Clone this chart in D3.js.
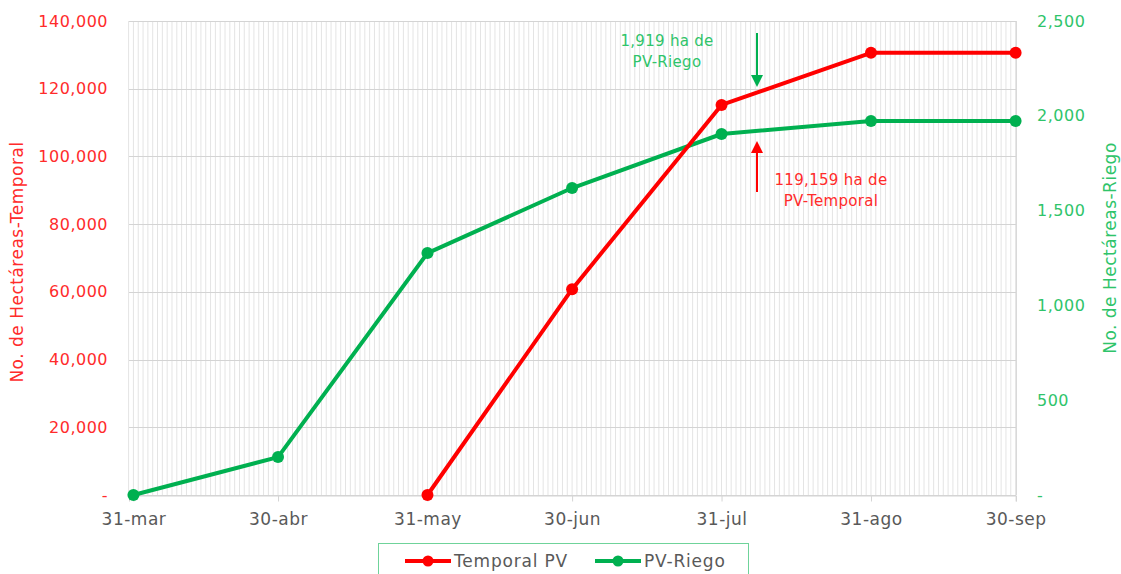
<!DOCTYPE html>
<html>
<head>
<meta charset="utf-8">
<script src="https://cdn.jsdelivr.net/npm/d3@7"></script>
<style>
  body { margin: 0; background: #fff; }
  svg text { font-family: "DejaVu Sans", sans-serif; }
</style>
</head>
<body>
<div id="chart"></div>
<script>
// fechas de corte (categorias)
const dates = ["2020-03-31", "2020-04-30", "2020-05-31", "2020-06-30", "2020-07-31", "2020-08-31", "2020-09-30"];
const tickLabels = ["31-mar", "30-abr", "31-may", "30-jun", "31-jul", "31-ago", "30-sep"];

// hectareas acumuladas
const temporalPV = [null, null, 0, 60800, 115200, 130600, 130600];
const riegoPV = [0, 200, 1276, 1619, 1904, 1973, 1973];

const leftTicks = [0, 20000, 40000, 60000, 80000, 100000, 120000, 140000];
const rightTicks = [0, 500, 1000, 1500, 2000, 2500];

const RED = "#ff0000", GREEN = "#00b050";
const RED_TXT = "#ff2b2b", GREEN_TXT = "#2fc46a";

const W = 1121, H = 574;
const margin = { top: 21, right: 105, bottom: 79, left: 129 };
const width = W - margin.left - margin.right,
      height = H - margin.top - margin.bottom;

const parse = d3.timeParse("%Y-%m-%d");
const dd = dates.map(parse);

const svg = d3.select("#chart").append("svg")
    .attr("width", W)
    .attr("height", H);

const g = svg.append("g")
    .attr("transform", "translate(" + margin.left + "," + margin.top + ")");

// scales
const x = d3.scaleTime()
    .domain([d3.timeHour.offset(dd[0], -22), d3.timeHour.offset(dd[dd.length - 1], 2)])
    .range([0, width]);

const yL = d3.scaleLinear().domain([0, 140000]).range([height, 0]);
const yR = d3.scaleLinear().domain([0, 2500]).range([height, 0]);

// daily vertical grid
const days = d3.timeDay.range(d3.timeDay.offset(dd[0], -1), d3.timeDay.offset(dd[dd.length - 1], 1));
g.append("g").selectAll("line")
    .data(days)
    .join("line")
    .attr("x1", d => x(d)).attr("x2", d => x(d))
    .attr("y1", 0).attr("y2", height)
    .attr("stroke", "#e4e4e4")
    .attr("stroke-width", 1);

// horizontal grid
g.append("g").selectAll("line")
    .data(leftTicks)
    .join("line")
    .attr("x1", 0).attr("x2", width)
    .attr("y1", d => Math.round(yL(d)) + 0.5).attr("y2", d => Math.round(yL(d)) + 0.5)
    .attr("stroke", "#d4d4d4");

g.append("line")
    .attr("x1", width + 0.5).attr("x2", width + 0.5)
    .attr("y1", 0).attr("y2", height)
    .attr("stroke", "#d9d9d9");

// x axis
const xAxis = d3.axisBottom(x)
    .tickValues(dd)
    .tickFormat((d, i) => tickLabels[i])
    .tickSize(6)
    .tickPadding(11);

g.append("g")
    .attr("class", "x-axis")
    .attr("transform", "translate(0," + (Math.round(height) + 0.5) + ")")
    .call(xAxis)
    .call(s => s.select(".domain").attr("stroke", "#d4d4d4"))
    .call(s => s.selectAll(".tick line").attr("stroke", "#d4d4d4"))
    .call(s => s.selectAll(".tick text").attr("fill", "#595959")
        .style("font-size", "17px").style("letter-spacing", "0.5px"));

// left axis
const fmt = d3.format(",");
g.append("g")
    .call(d3.axisLeft(yL).tickValues(leftTicks).tickSize(0).tickPadding(21)
        .tickFormat(d => d === 0 ? "-" : fmt(d)))
    .call(s => s.select(".domain").remove())
    .call(s => s.selectAll("text").attr("fill", RED_TXT)
        .style("font-size", "16px").style("letter-spacing", "0.5px"));

// right axis
g.append("g")
    .attr("transform", "translate(" + width + ",0)")
    .call(d3.axisRight(yR).tickValues(rightTicks).tickSize(0).tickPadding(21)
        .tickFormat(d => d === 0 ? "-" : fmt(d)))
    .call(s => s.select(".domain").remove())
    .call(s => s.selectAll("text").attr("fill", GREEN_TXT)
        .style("font-size", "16px").style("letter-spacing", "0.5px"));

// axis titles
svg.append("text")
    .attr("transform", "translate(23,262) rotate(-90)")
    .attr("text-anchor", "middle")
    .attr("fill", RED_TXT)
    .style("font-size", "17px").style("letter-spacing", "0.5px")
    .text("No. de Hectáreas-Temporal");

svg.append("text")
    .attr("transform", "translate(1116,248) rotate(-90)")
    .attr("text-anchor", "middle")
    .attr("fill", GREEN_TXT)
    .style("font-size", "17px").style("letter-spacing", "0.5px")
    .text("No. de Hectáreas-Riego");

// series
const tempData = dd.map((d, i) => ({ date: d, v: temporalPV[i] })).filter(d => d.v !== null);
const riegoData = dd.map((d, i) => ({ date: d, v: riegoPV[i] }));

const lineL = d3.line().x(d => x(d.date)).y(d => yL(d.v));
const lineR = d3.line().x(d => x(d.date)).y(d => yR(d.v));

g.append("path").datum(riegoData)
    .attr("fill", "none").attr("stroke", GREEN).attr("stroke-width", 4)
    .attr("stroke-linejoin", "round")
    .attr("d", lineR);
g.append("g").selectAll("circle").data(riegoData).join("circle")
    .attr("cx", d => x(d.date)).attr("cy", d => yR(d.v)).attr("r", 6)
    .attr("fill", GREEN);

g.append("path").datum(tempData)
    .attr("fill", "none").attr("stroke", RED).attr("stroke-width", 4)
    .attr("stroke-linejoin", "round")
    .attr("d", lineL);
g.append("g").selectAll("circle").data(tempData).join("circle")
    .attr("cx", d => x(d.date)).attr("cy", d => yL(d.v)).attr("r", 6)
    .attr("fill", RED);

// annotations
function arrow(xp, y1, y2, color) {
    const dir = y2 > y1 ? 1 : -1;
    svg.append("line")
        .attr("x1", xp).attr("x2", xp)
        .attr("y1", y1).attr("y2", y2 - dir * 10)
        .attr("stroke", color).attr("stroke-width", 2);
    svg.append("path")
        .attr("d", "M" + (xp - 6) + "," + (y2 - dir * 12) + "L" + (xp + 6) + "," + (y2 - dir * 12) + "L" + xp + "," + y2 + "Z")
        .attr("fill", color);
}
arrow(757, 33, 87, GREEN);
arrow(757, 192, 141, RED);

const annG = svg.append("text").attr("fill", GREEN_TXT).attr("text-anchor", "middle")
    .style("font-size", "15px").style("letter-spacing", "0.3px");
annG.append("tspan").attr("x", 667).attr("y", 46).text("1,919 ha de");
annG.append("tspan").attr("x", 667).attr("y", 67).text("PV-Riego");

const annR = svg.append("text").attr("fill", RED_TXT).attr("text-anchor", "middle")
    .style("font-size", "15px").style("letter-spacing", "0.3px");
annR.append("tspan").attr("x", 831).attr("y", 185).text("119,159 ha de");
annR.append("tspan").attr("x", 831).attr("y", 206).text("PV-Temporal");

// legend
const leg = svg.append("g");
leg.append("rect")
    .attr("x", 378.5).attr("y", 543.5)
    .attr("width", 370).attr("height", 40)
    .attr("fill", "#fff").attr("stroke", "#6fd39a").attr("stroke-width", 1);

const legItems = [
    { label: "Temporal PV", color: RED, x: 405 },
    { label: "PV-Riego", color: GREEN, x: 595 }
];
legItems.forEach(it => {
    leg.append("line")
        .attr("x1", it.x).attr("x2", it.x + 46)
        .attr("y1", 561).attr("y2", 561)
        .attr("stroke", it.color).attr("stroke-width", 4);
    leg.append("circle")
        .attr("cx", it.x + 23).attr("cy", 561).attr("r", 5.5)
        .attr("fill", it.color);
    leg.append("text")
        .attr("x", it.x + 49).attr("y", 567)
        .attr("fill", "#595959")
        .style("font-size", "17px").style("letter-spacing", "0.8px")
        .text(it.label);
});
</script>
</body>
</html>
